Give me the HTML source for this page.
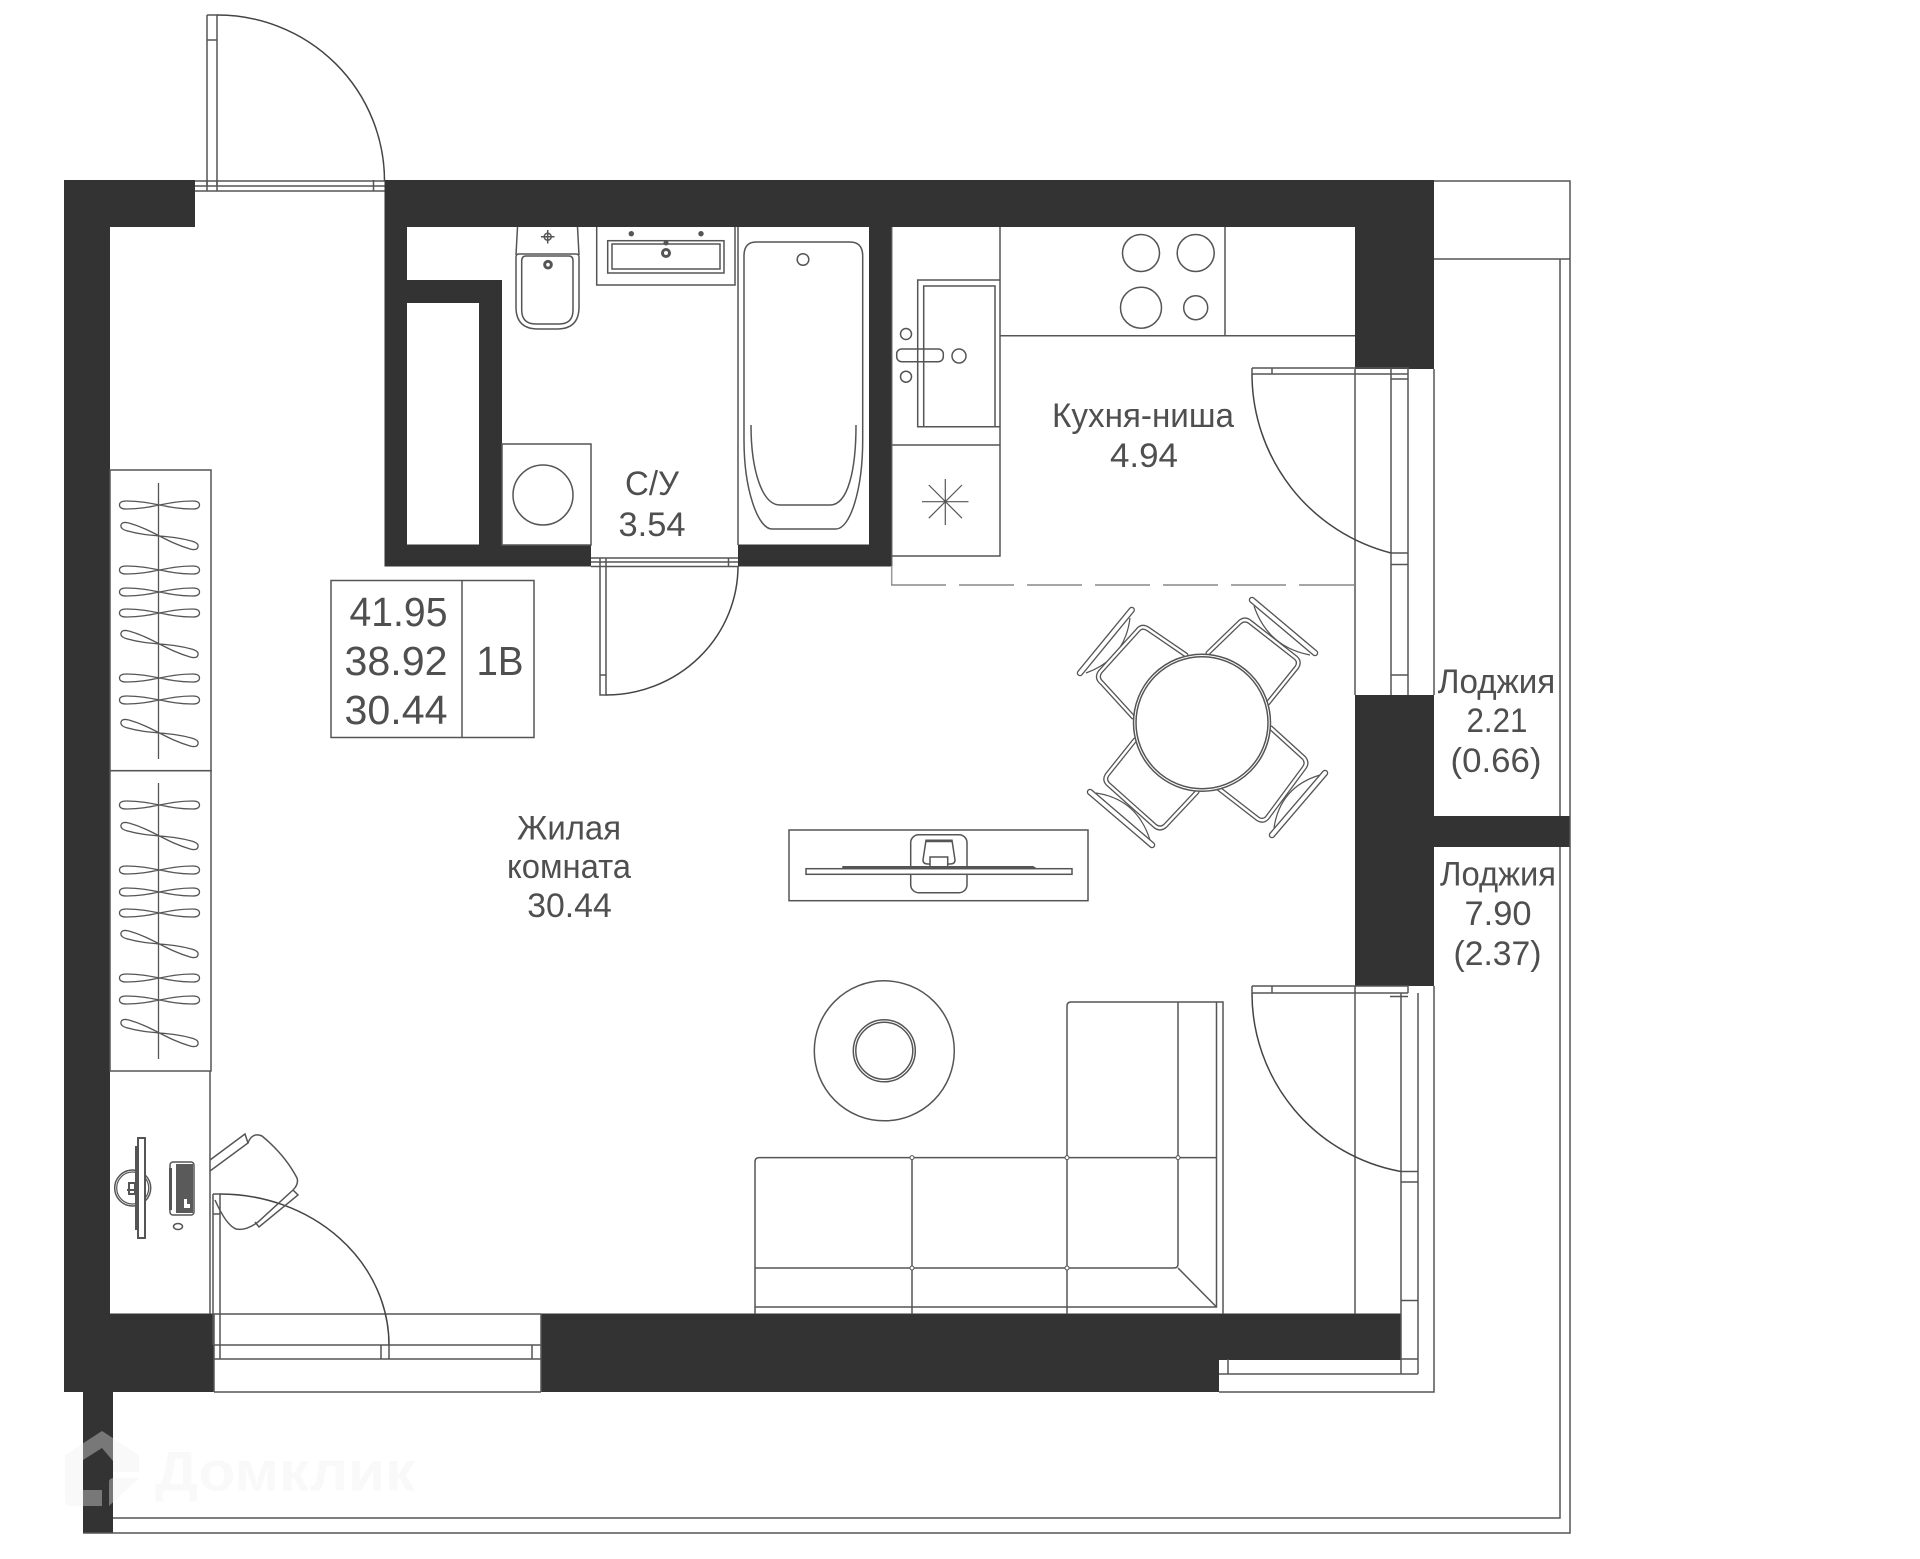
<!DOCTYPE html>
<html lang="ru"><head><meta charset="utf-8"><title>План квартиры</title>
<style>
html,body{margin:0;padding:0;background:#fff}
svg{display:block}
text{font-family:"Liberation Sans",sans-serif;fill:#4f4f4f;text-anchor:middle}
.l{font-size:34px}.b{font-size:41px}
</style></head><body>
<svg xmlns="http://www.w3.org/2000/svg" width="1920" height="1559" viewBox="0 0 1920 1559">
<defs>
<path id="h" d="M0,0 C-10,-2 -20,-4 -33,-4 Q-40,-4 -40,0 Q-40,4 -33,4 C-20,4 -10,2 0,0 C10,-2 20,-4 33,-4 Q40,-4 40,0 Q40,4 33,4 C20,4 10,2 0,0Z"/>
<g id="w">
<use href="#h" x="159.5" y="505"/>
<use href="#h" transform="translate(159.5 536) rotate(16)"/>
<use href="#h" x="159.5" y="570"/>
<use href="#h" x="159.5" y="592"/>
<use href="#h" x="159.5" y="613"/>
<use href="#h" transform="translate(159.5 644) rotate(16)"/>
<use href="#h" x="159.5" y="678"/>
<use href="#h" x="159.5" y="700"/>
<use href="#h" transform="translate(159.5 733) rotate(16)"/>
<path d="M158.5,483V759"/>
</g>
</defs>
<rect width="1920" height="1559" fill="#fff"/>

<!-- walls -->
<g fill="#333">
<rect x="64" y="180" width="46" height="1212"/>
<rect x="64" y="180" width="131" height="47"/>
<rect x="384.5" y="180" width="1049.5" height="47"/>
<rect x="1355" y="180" width="79" height="189"/>
<rect x="384.5" y="180" width="22.5" height="386.5"/>
<rect x="384.5" y="280" width="117.5" height="23"/>
<rect x="479" y="280" width="23" height="286"/>
<rect x="384.5" y="544.5" width="206.5" height="22"/>
<rect x="738" y="544.5" width="153" height="22"/>
<rect x="869" y="180" width="22" height="386.5"/>
<rect x="1355" y="695" width="79" height="291"/>
<rect x="1434" y="816" width="136" height="31"/>
<rect x="64" y="1313.5" width="150" height="78.5"/>
<rect x="541" y="1313.5" width="860" height="46.5"/>
<rect x="541" y="1360" width="678" height="32"/>
<rect x="83" y="1392" width="30" height="141"/>
</g>

<g fill="none" stroke="#555" stroke-width="1.5">
<!-- loggia -->
<path d="M1434,181H1570V1533H83M1434,259H1570M1560,259V816M1560,847V1518H113M1434,369V695M1434,986V1392H1219"/>
<!-- top door -->
<path d="M195,181H384.5M195,186H384.5M195,191H384.5M207,180V191M217,180V191M373.5,180V191"/>
<path d="M207,15H217V185M207,15V185M207,40H217"/>
<path d="M217,15A167,166 0 0 1 384.5,181" stroke="#444"/>
<!-- bath door -->
<path d="M591,558H738M591,562H738M591,566.5H738M600,558V566.5M606,558V566.5M728.5,558V566.5"/>
<path d="M600,566.5V695H606V566.5M600,675H606"/>
<path d="M738,566A132,129 0 0 1 606,695" stroke="#444"/>
<!-- kitchen door -->
<path d="M1252,368H1408V695M1252,374H1408M1252,368V374M1272,368V374M1355,369V695M1391,369V695M1391,379H1408M1391,553H1408M1391,564.5H1408M1391,675H1408"/>
<path d="M1252,374A185,185 0 0 0 1391,553" stroke="#444"/>
<!-- lower balcony door -->
<path d="M1252,986H1408V993M1252,993H1408M1252,986V993M1272,986V993M1355,986V1314M1401,993V1374M1418,993V1374M1390,996.5H1408M1401,1171.5H1418M1401,1182H1418M1401,1300.5H1418M1401,1359H1418M1219,1374H1418M1228,1359V1374"/>
<path d="M1252,993A181,181 0 0 0 1401,1171.5" stroke="#444"/>
<!-- bottom window/door -->
<path d="M214,1314H541M214,1345H541M214,1359H541M214,1392H541M220,1345V1359M381,1345V1359M389,1345V1359M532,1345V1359M214,1314V1392M541,1314V1392"/>
<path d="M213,1194V1345M220,1194V1345M213,1194H220M213,1214H220"/>
<path d="M220,1194A169,151 0 0 1 389,1345" stroke="#444"/>

<!-- wardrobes -->
<rect x="110" y="470" width="101" height="300.7"/>
<rect x="110" y="770.7" width="101" height="300.3"/>
<use href="#w" stroke-width="1.3"/>
<use href="#w" y="300" stroke-width="1.3"/>
<!-- desk -->
<path d="M210,1071V1314"/>
<circle cx="132.7" cy="1188" r="18" stroke-width="1.5"/>
<circle cx="132.7" cy="1188" r="16" stroke-width="1.2"/>
<rect x="138" y="1138" width="7" height="100" fill="#fff" stroke-width="2"/>
<path d="M136,1146V1230" stroke-width="2"/>
<path d="M129,1183H135V1194H129ZM127,1190H137" stroke-width="2"/>
<rect x="170" y="1162" width="24" height="53" rx="3"/>
<rect x="176" y="1164" width="17" height="49" fill="#5a5a5a" stroke="none"/>
<path d="M170.5,1168V1210" stroke-width="3"/>
<path d="M184,1199V1208H190V1204H187V1199Z" fill="#fff" stroke="none"/>
<ellipse cx="178" cy="1226.5" rx="4.5" ry="3"/>
<path d="M210,1160L245,1134L248,1143L210,1171"/>
<path d="M248,1143Q252,1132 262,1136Q285,1155 297,1178Q299,1184 293,1190L258,1222Q246,1231 236,1229Q226,1225 215,1200"/>
<path d="M293,1190L298,1195L259,1227L255,1222"/>

<!-- bathroom -->
<rect x="502" y="444" width="89" height="101"/>
<ellipse cx="543" cy="495" rx="30" ry="30"/>
<path d="M517.5,227L516,255M577.5,227L579,255"/>
<path d="M516,257Q516,254 519,254H576Q579,254 579,257V307Q579,329 557,329H538Q516,329 516,307Z"/>
<path d="M521.7,261Q521.7,256 526,256H569Q573,256 573,261V310Q573,324 559,324H536Q521.7,324 521.7,310Z"/>
<circle cx="547.7" cy="236.7" r="3.5"/>
<path d="M541,236.7H554.5M547.7,230V243.5"/>
<circle cx="548" cy="264.7" r="3.3" stroke-width="3"/>
<path d="M596.7,227V285H735V227M738,227V545"/>
<rect x="607.7" y="240.7" width="116.3" height="32.3"/>
<rect x="612" y="244" width="108" height="25"/>
<circle cx="666" cy="253" r="3.5" stroke-width="3"/>
<circle cx="666" cy="243" r="1.8" fill="#555"/>
<circle cx="631.3" cy="233.7" r="2.2" fill="#555" stroke-width="1"/>
<circle cx="701" cy="233.7" r="2.2" fill="#555" stroke-width="1"/>
<path d="M744,256Q744,242 756,242H850Q862.7,242 862.7,256V440C862.7,490 850,529 836,529H772C758,529 744,490 744,440Z"/>
<circle cx="803" cy="259.5" r="5.8"/>
<path d="M751,425C751,470 762,505 780,505H830C848,505 856,470 856,425"/>

<!-- kitchen -->
<path d="M891.7,566V227M1000,227V556H891.7M891.7,445H1000M1000,335.7H1355M1225,227V335.7"/>
<path d="M1000,280H917.7V426.7H1000M923.7,426.7V286H995V426.7"/>
<rect x="896.7" y="349" width="46.6" height="12.7" rx="5"/>
<circle cx="906" cy="334" r="5.5"/>
<circle cx="906" cy="376.7" r="5.5"/>
<circle cx="959" cy="356" r="7"/>
<path d="M945.3,479V525M922,501.7H968.5M928.8,485L962,518.2M928.8,518.2L962,485" stroke-width="1.2"/>
<circle cx="1141" cy="253" r="18.5"/>
<circle cx="1195.7" cy="253" r="18.5"/>
<circle cx="1141" cy="307.7" r="20.5"/>
<circle cx="1195.7" cy="307.7" r="12"/>
<path d="M891.7,566V585" stroke="#999"/>
<path d="M891,585H1355" stroke="#888" stroke-dasharray="55 13"/>

<!-- info box -->
<rect x="331" y="580.5" width="203" height="157"/>
<path d="M462,580.5V737.5"/>

<!-- chairs -->
<g stroke-width="1.2">
<path d="M1130,618Q1125,659 1086,673M1254,606Q1268,647 1310,655M1320,775Q1280,787 1274,828M1096,793Q1137,799 1150,840"/>
</g>
<g stroke="#555" stroke-linejoin="round" stroke-linecap="round">
<path stroke-width="5" d="M1186,655L1148,629Q1142,625 1138,630L1100,672Q1096,678 1102,683L1133,717"/>
<path stroke-width="5" d="M1208,653L1240,622Q1245,618 1250,622L1296,658Q1300,662 1297,667L1268,703"/>
<path stroke-width="5" d="M1271,728L1304,758Q1308,763 1304,768L1267,818Q1263,822 1258,819L1218,788"/>
<path stroke-width="5" d="M1135,740L1107,775Q1104,780 1108,784L1155,826Q1160,830 1165,826L1197,792"/>
<path stroke-width="6.5" d="M1131.7,610L1080,673M1252,600L1315,653M1325,773L1272,835M1090,792L1152,845"/>
</g>
<g stroke="#fff" stroke-linejoin="round" stroke-linecap="round">
<path stroke-width="2.4" d="M1186,655L1148,629Q1142,625 1138,630L1100,672Q1096,678 1102,683L1133,717"/>
<path stroke-width="2.4" d="M1208,653L1240,622Q1245,618 1250,622L1296,658Q1300,662 1297,667L1268,703"/>
<path stroke-width="2.4" d="M1271,728L1304,758Q1308,763 1304,768L1267,818Q1263,822 1258,819L1218,788"/>
<path stroke-width="2.4" d="M1135,740L1107,775Q1104,780 1108,784L1155,826Q1160,830 1165,826L1197,792"/>
<path stroke-width="3.8" d="M1131.7,610L1080,673M1252,600L1315,653M1325,773L1272,835M1090,792L1152,845"/>
</g>
<circle cx="1202" cy="722.7" r="68.5" fill="#fff"/>
<circle cx="1202" cy="722.7" r="66"/>

<!-- tv -->
<rect x="789" y="830" width="299" height="70.7"/>
<rect x="910.7" y="834.7" width="56.3" height="58" rx="8"/>
<path d="M926,840.3H952L955,860Q955,864 950,864H928Q923,864 923,860Z" fill="#fff"/>
<path d="M926,841H952" stroke-width="2.5"/>
<rect x="930" y="857" width="17.7" height="10" fill="#fff"/>
<rect x="806" y="868.7" width="266" height="5.6" fill="#fff"/>
<path d="M843,868V866.7H1033L1035,868H843Z" fill="#888"/>

<!-- rug -->
<circle cx="884.3" cy="1050.8" r="70"/>
<circle cx="884.3" cy="1050.8" r="31"/>
<circle cx="884.3" cy="1050.8" r="28.5"/>

<!-- sofa -->
<path d="M755,1314V1162Q755,1157.6 759,1157.6H1216.5M912,1157.6V1314M1067,1314V1006Q1067,1002 1071,1002H1223V1314"/>
<path d="M1178,1002V1264Q1178,1268 1174,1268H755M1216.5,1002V1307H755M1178,1268L1216.5,1307"/>
<g fill="#fff" stroke-width="1">
<circle cx="912" cy="1157.6" r="2"/><circle cx="1067" cy="1157.6" r="2"/><circle cx="1178" cy="1157.6" r="2"/>
<circle cx="912" cy="1268" r="2"/><circle cx="1067" cy="1268" r="2"/>
</g>
</g>

<!-- labels -->
<text class="b" x="398.5" y="626" textLength="98" lengthAdjust="spacingAndGlyphs">41.95</text>
<text class="b" x="396" y="675" textLength="103" lengthAdjust="spacingAndGlyphs">38.92</text>
<text class="b" x="396" y="724" textLength="103" lengthAdjust="spacingAndGlyphs">30.44</text>
<text class="b" x="500" y="675" textLength="47" lengthAdjust="spacingAndGlyphs">1В</text>
<text class="l" x="652" y="495" textLength="54" lengthAdjust="spacingAndGlyphs">С/У</text>
<text class="l" x="652" y="536" textLength="67" lengthAdjust="spacingAndGlyphs">3.54</text>
<text class="l" x="1143" y="427" textLength="182" lengthAdjust="spacingAndGlyphs">Кухня-ниша</text>
<text class="l" x="1144" y="467" textLength="68" lengthAdjust="spacingAndGlyphs">4.94</text>
<text class="l" x="1496.5" y="693" textLength="117.5" lengthAdjust="spacingAndGlyphs">Лоджия</text>
<text class="l" x="1497" y="732" textLength="61" lengthAdjust="spacingAndGlyphs">2.21</text>
<text class="l" x="1496" y="772" textLength="91" lengthAdjust="spacingAndGlyphs">(0.66)</text>
<text class="l" x="1498" y="885.5" textLength="116" lengthAdjust="spacingAndGlyphs">Лоджия</text>
<text class="l" x="1498" y="925" textLength="67" lengthAdjust="spacingAndGlyphs">7.90</text>
<text class="l" x="1497.5" y="965" textLength="88" lengthAdjust="spacingAndGlyphs">(2.37)</text>
<text class="l" x="569" y="839.5" textLength="104" lengthAdjust="spacingAndGlyphs">Жилая</text>
<text class="l" x="569" y="878" textLength="124" lengthAdjust="spacingAndGlyphs">комната</text>
<text class="l" x="569.5" y="917" textLength="84.5" lengthAdjust="spacingAndGlyphs">30.44</text>

<!-- watermark -->
<g fill="#f0f0f0" fill-opacity=".37">
<path d="M65,1455L102,1431L139,1455V1472H113V1461L102,1448L83,1460V1490H102V1506H70Q65,1506 65,1500Z"/>
<path d="M109,1506V1482Q109,1478 114,1478H139Z"/>
<text x="285" y="1490.5" font-size="56" font-weight="bold" textLength="260" lengthAdjust="spacingAndGlyphs" style="fill:#f0f0f0;fill-opacity:.37">Домклик</text>
</g>
</svg>
</body></html>
